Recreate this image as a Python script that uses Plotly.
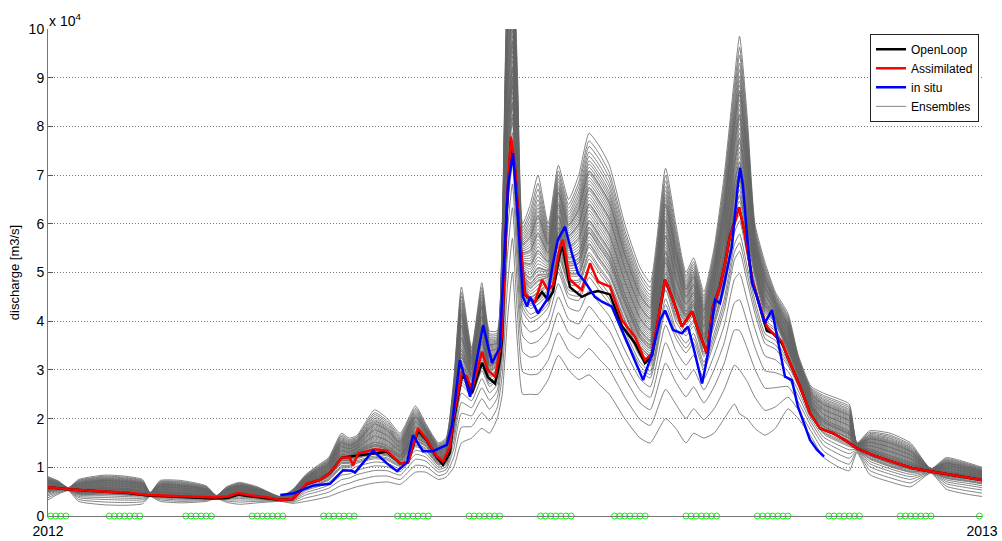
import numpy as np
import pandas as pd
import plotly.graph_objects as go

START = pd.Timestamp("2012-01-01")
END = pd.Timestamp("2013-01-01")
SCALE = 1e4  # values below are in units of 10^4 m3/s

# ---------------- Assimilated (red) ----------------
RED_DAYS = [0, 7.8, 19.6, 31.3, 39.2, 52.1, 65.4, 70.5, 74.5, 78.4, 86.2, 91.3, 96, 101.5, 106.6,
            110.5, 115.2, 118.3, 119.5, 121.5, 128.1, 132.8, 137.9, 141.1, 145, 148.5, 152.4, 154.8,
            157.5, 158.7, 162.2, 164.2, 166.1, 170.1, 172.4, 175.2, 177.1, 177.9, 179.9, 181.4, 183,
            185, 186.9, 188.9, 190.8, 193.6, 195.9, 197.9, 200.6, 201.8, 204.5, 209.2, 212.4, 215.5,
            220.2, 224.9, 230, 233.9, 236.7, 241.8, 244.9, 248.4, 252.4, 254.7, 258.2, 260.6, 263.3,
            265.3, 267.2, 269.2, 270.8, 273.1, 275.9, 278.2, 281.7, 284.1, 287.6, 290, 294.7, 298.6,
            302.5, 307.6, 313.1, 317, 323.3, 331.1, 338.9, 346.8, 354.6, 366]
RED_VALS = [0.59, 0.55, 0.51, 0.48, 0.43, 0.40, 0.38, 0.40, 0.47, 0.43, 0.38, 0.33, 0.35, 0.67, 0.74,
            0.88, 1.20, 1.20, 1.03, 1.28, 1.37, 1.34, 1.08, 1.10, 1.80, 1.56, 1.22, 1.12,
            1.42, 1.97, 2.94, 2.86, 2.59, 3.37, 2.99, 2.86, 3.40, 3.75, 6.49, 7.79, 7.17,
            5.67, 4.57, 4.44, 4.40, 4.85, 4.64, 4.74, 5.53, 5.67, 4.85, 4.64, 5.19, 4.81,
            4.71, 4.02, 3.68, 3.20, 3.34, 4.85, 4.44, 3.89, 4.20, 3.83, 3.34, 4.30, 4.70,
            5.19, 5.74, 6.05, 6.34, 5.80, 4.85, 4.44, 3.89, 3.75, 3.58, 3.24, 2.66, 2.11,
            1.80, 1.70, 1.53, 1.39, 1.25, 1.11, 0.98, 0.91, 0.84, 0.74]

# ---------------- OpenLoop (black) ----------------
BLACK_DAYS = RED_DAYS
BLACK_VALS = [0.59, 0.55, 0.51, 0.47, 0.42, 0.39, 0.36, 0.37, 0.44, 0.41, 0.37, 0.33, 0.35, 0.66, 0.74,
              0.88, 1.20, 1.22, 1.22, 1.24, 1.28, 1.32, 1.08, 1.10, 1.75, 1.55, 1.20, 1.05,
              1.30, 1.90, 2.86, 2.80, 2.52, 3.15, 2.85, 2.72, 3.20, 3.60, 6.40, 7.70, 7.10,
              5.60, 4.55, 4.44, 4.40, 4.60, 4.44, 4.60, 5.40, 5.53, 4.70, 4.50, 4.58, 4.62,
              4.55, 3.90, 3.55, 3.14, 3.30, 4.85, 4.44, 3.89, 4.20, 3.83, 3.34, 4.30, 4.70,
              5.19, 5.74, 6.05, 6.34, 5.80, 4.85, 4.44, 3.80, 3.75, 3.55, 3.24, 2.66, 2.11,
              1.80, 1.70, 1.53, 1.39, 1.25, 1.11, 0.98, 0.91, 0.84, 0.74]

# ---------------- in situ (blue) ----------------
BLUE_DAYS = [91, 96, 103.8, 110.5, 115.6, 119.1, 120.3, 127.4, 132.8, 136.8, 140.7, 143, 146.9, 150.9,
             156.3, 158.3, 161.4, 165.4, 170.5, 174, 175.2, 177.1, 177.9, 180.3, 182.2, 184.2, 186.1,
             187.7, 188.9, 192, 195.5, 197.9, 199.8, 202.6, 205.3, 207.7, 210.4, 214.3, 217.1, 221,
             224.9, 228.8, 233.2, 236.7, 239.8, 241.8, 244.9, 248.4, 250.8, 253.5, 256.3, 257.4,
             258.6, 261.4, 263.3, 265.3, 268, 270, 271.2, 272.3, 274.3, 275.9, 277.8, 280.9, 283.7,
             286, 288.8, 291.5, 293.9, 295.8, 298.6, 301.3, 304.1]
BLUE_VALS = [0.43, 0.46, 0.62, 0.66, 0.94, 0.93, 0.89, 1.34, 1.08, 0.92, 1.10, 1.66, 1.33, 1.33,
             1.46, 1.86, 3.20, 2.45, 3.92, 3.14, 3.27, 3.47, 4.44, 6.80, 7.45, 6.10, 4.50,
             4.30, 4.50, 4.16, 4.44, 5.19, 5.67, 5.94, 5.39, 4.98, 4.81, 4.50, 4.40, 4.30,
             3.82, 3.34, 2.79, 3.34, 4.02, 4.22, 3.82, 3.75, 3.89, 3.34, 2.72, 3.00,
             3.34, 4.44, 4.37, 4.85, 5.53, 6.63, 7.15, 6.80, 5.53, 4.78, 4.50, 3.96, 4.23,
             3.61, 2.86, 2.79, 2.24, 1.97, 1.56, 1.36, 1.22]

# ---------------- Ensemble envelope ----------------
ENS_DAYS = [0, 4, 8, 12, 22, 30, 37, 40, 44, 52, 62, 66, 70, 75, 82, 91, 96, 101, 106, 110, 115, 118,
            121, 128, 133, 138, 144, 148, 153, 156, 159, 162, 166, 170, 173, 176, 178, 180, 182, 184,
            186, 189, 192, 196, 200, 204, 208, 212, 216, 220, 226, 232, 236, 242, 246, 250, 253, 257,
            261, 265, 269, 271, 274, 277, 281, 285, 290, 294, 299, 304, 310, 314, 317, 322, 330, 338,
            346, 352, 360, 366]
ENS_LO = [0.33, 0.45, 0.52, 0.30, 0.23, 0.22, 0.25, 0.40, 0.30, 0.27, 0.30, 0.36, 0.28, 0.24, 0.27,
          0.30, 0.26, 0.30, 0.35, 0.40, 0.50, 0.55, 0.60, 0.68, 0.70, 0.65, 0.90, 0.90, 0.75, 0.80,
          1.00, 1.50, 1.60, 1.80, 1.70, 2.00, 2.50, 4.00, 5.00, 3.50, 2.50, 2.50, 2.50, 2.80, 3.30,
          3.00, 2.80, 2.90, 2.70, 2.50, 2.00, 1.60, 1.50, 2.00, 1.80, 1.50, 1.70, 1.60, 1.70, 2.00,
          2.30, 2.10, 2.00, 1.80, 1.66, 1.80, 2.20, 2.00, 1.63, 1.20, 1.00, 0.93, 1.30, 0.85, 0.70,
          0.60, 0.88, 0.55, 0.45, 0.40]
ENS_MID = [0.55, 0.57, 0.55, 0.50, 0.52, 0.50, 0.47, 0.43, 0.45, 0.42, 0.40, 0.39, 0.42, 0.47, 0.42,
           0.34, 0.38, 0.65, 0.75, 0.85, 1.15, 1.15, 1.25, 1.35, 1.30, 1.15, 1.60, 1.50, 1.15, 1.20,
           2.00, 3.10, 2.80, 3.40, 3.00, 3.10, 4.50, 7.50, 8.50, 6.50, 4.80, 4.50, 4.60, 4.80, 5.60,
           5.00, 5.00, 5.60, 5.30, 5.00, 4.20, 3.50, 3.30, 5.00, 4.30, 4.00, 4.20, 3.50, 4.20, 5.00,
           6.30, 6.60, 5.80, 5.00, 4.20, 4.00, 3.40, 2.90, 2.20, 1.85, 1.70, 1.60, 1.40, 1.28, 1.12,
           1.00, 0.92, 0.85, 0.80, 0.75]
ENS_HI = [0.81, 0.72, 0.58, 0.75, 0.84, 0.82, 0.75, 0.48, 0.73, 0.73, 0.62, 0.42, 0.60, 0.69, 0.60,
          0.40, 0.55, 0.85, 1.05, 1.20, 1.70, 1.60, 1.65, 2.18, 2.00, 1.70, 2.26, 1.90, 1.50, 1.60,
          2.80, 4.70, 3.45, 4.79, 3.80, 3.80, 6.00, 11.0, 12.0, 9.00, 6.00, 6.40, 7.00, 6.00, 7.20,
          6.50, 7.00, 7.86, 7.60, 7.20, 6.00, 5.10, 4.80, 7.14, 6.00, 5.00, 5.30, 4.60, 5.50, 7.00,
          9.00, 9.85, 8.20, 6.00, 5.20, 4.60, 4.16, 3.30, 2.66, 2.52, 2.40, 2.30, 1.50, 1.75, 1.70,
          1.50, 0.97, 1.20, 1.10, 1.00]
# position of each ensemble member inside the envelope (-1 = lower edge, 0 = core, 1 = upper edge)
MEMBER_POS = [-1.0, -0.8, -0.62, -0.48, -0.36, -0.26, -0.22, -0.18, -0.12, -0.09, -0.07, -0.03, -0.01,
              0.0, 0.03, 0.06, 0.09, 0.1, 0.12, 0.14, 0.15, 0.18, 0.2, 0.21, 0.24, 0.27, 0.3, 0.33,
              0.35, 0.36, 0.39, 0.42, 0.45, 0.48, 0.5, 0.51, 0.54, 0.57, 0.6, 0.63, 0.65, 0.66, 0.69,
              0.72, 0.75, 0.79, 0.83, 0.88, 0.93, 1.0]

# ---------------- observation times (green circles) ----------------
OBS_DAYS = [1, 3, 5, 7,
            24, 26, 28, 30, 32, 34, 36,
            54, 56, 58, 60, 62, 64,
            80, 82, 84, 86, 88, 90, 92,
            108, 110, 112, 114, 116, 118, 120,
            137, 139, 141, 143, 145, 147, 149,
            165, 167, 169, 171, 173, 175, 177,
            193, 195, 197, 199, 201, 203, 205,
            222, 224, 226, 228, 230, 232, 234,
            250, 252, 254, 256, 258, 260, 262,
            278, 280, 282, 284, 286, 288, 290,
            306, 308, 310, 312, 314, 316, 318,
            334, 336, 338, 340, 342, 344, 346,
            365]

Y_TICKS = list(range(0, 11))


def to_dates(days):
    return START + pd.to_timedelta(np.asarray(days, dtype=float), unit="D")


FONT = "Liberation Sans, Arial, sans-serif"
fig = go.Figure()

lo = np.array(ENS_LO)
mid = np.array(ENS_MID)
hi = np.array(ENS_HI)
ens_x = to_dates(ENS_DAYS)
for i, p in enumerate(MEMBER_POS):
    member = np.where(p >= 0, mid + p * (hi - mid), mid + p * (mid - lo))
    fig.add_trace(go.Scatter(
        x=ens_x, y=member * SCALE, mode="lines",
        line=dict(color="rgb(100,100,100)", width=0.8, shape="spline", smoothing=0.5),
        name="Ensembles", legendgroup="ens", showlegend=(i == 0), legendrank=4,
        hoverinfo="skip"))

fig.add_trace(go.Scatter(x=to_dates(BLACK_DAYS), y=np.array(BLACK_VALS) * SCALE, mode="lines",
                         line=dict(color="black", width=2.5), name="OpenLoop", legendrank=1))
fig.add_trace(go.Scatter(x=to_dates(RED_DAYS), y=np.array(RED_VALS) * SCALE, mode="lines",
                         line=dict(color="#ff0000", width=2.5), name="Assimilated", legendrank=2))
fig.add_trace(go.Scatter(x=to_dates(BLUE_DAYS), y=np.array(BLUE_VALS) * SCALE, mode="lines",
                         line=dict(color="#0000ff", width=2.5), name="in situ", legendrank=3))
fig.add_trace(go.Scatter(x=to_dates(OBS_DAYS), y=np.zeros(len(OBS_DAYS)), mode="markers",
                         marker=dict(symbol="circle-open", color="#00ff00", size=6,
                                     line=dict(width=1, color="#00ff00")),
                         showlegend=False, cliponaxis=False, hoverinfo="skip"))

fig.update_layout(
    width=1002, height=541,
    margin=dict(l=48, r=20, t=29, b=25, autoexpand=False),
    paper_bgcolor="white", plot_bgcolor="white",
    font=dict(family=FONT, size=14, color="black"),
    showlegend=True,
    legend=dict(x=0.9968, y=0.99, xanchor="right", yanchor="top",
                bgcolor="white", bordercolor="#222", borderwidth=1,
                font=dict(family=FONT, size=12, color="black"),
                itemwidth=30, tracegroupgap=0, traceorder="normal"),
    annotations=[dict(text="x 10<sup>4</sup>", xref="paper", yref="paper", x=0.0, y=1.0,
                      xanchor="left", yanchor="bottom", showarrow=False, xshift=-1, yshift=-2,
                      font=dict(family=FONT, size=14, color="black"))],
)

fig.update_xaxes(
    type="date", range=[START, END],
    tickvals=[START, END], ticktext=["2012", "2013"],
    ticks="inside", ticklen=5, tickcolor="#555", ticklabelstandoff=2,
    showline=True, linecolor="#777", linewidth=1, mirror=False,
    showgrid=True, gridcolor="#777", griddash="1px,2px", gridwidth=1,
    zeroline=False, automargin=False, tickfont=dict(family=FONT, size=14, color="black"),
)
fig.update_yaxes(
    range=[0, 10 * SCALE], tickvals=[t * SCALE for t in Y_TICKS], ticktext=[str(t) for t in Y_TICKS],
    ticks="inside", ticklen=5, tickcolor="#555",
    showline=True, linecolor="#777", linewidth=1, mirror=False,
    showgrid=True, gridcolor="#777", griddash="1px,2px", gridwidth=1,
    zeroline=False, automargin=False, tickfont=dict(family=FONT, size=14, color="black"),
    title=dict(text="discharge [m3/s]", standoff=6, font=dict(family=FONT, size=13, color="black")),
)

fig.write_html("out.html")
